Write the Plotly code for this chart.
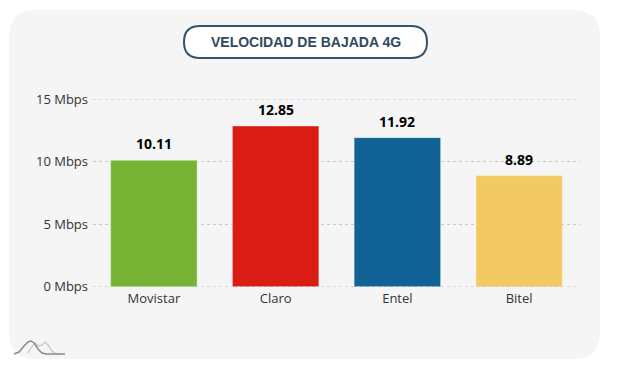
import plotly.graph_objects as go

W, H = 623, 371
L, R, T, B = 93, 580, 99, 287

categories = ["Movistar", "Claro", "Entel", "Bitel"]
values = [10.11, 12.85, 11.92, 8.89]
labels = ["10.11", "12.85", "11.92", "8.89"]
colors = ["#76b335", "#d91c14", "#106394", "#f3c964"]
tick_values = [0, 5, 10, 15]
tick_labels = ["0 Mbps", "5 Mbps", "10 Mbps", "15 Mbps"]
title_text = "VELOCIDAD DE BAJADA 4G"

# paper coordinates relative to the plot area
def X(x):
    return (x - L) / (R - L)

def Y(y):
    return (B - y) / (B - T)

def rounded(x0, y0, x1, y1, r):
    return (
        f"M {X(x0 + r)} {Y(y0)} L {X(x1 - r)} {Y(y0)} Q {X(x1)} {Y(y0)} {X(x1)} {Y(y0 + r)} "
        f"L {X(x1)} {Y(y1 - r)} Q {X(x1)} {Y(y1)} {X(x1 - r)} {Y(y1)} "
        f"L {X(x0 + r)} {Y(y1)} Q {X(x0)} {Y(y1)} {X(x0)} {Y(y1 - r)} "
        f"L {X(x0)} {Y(y0 + r)} Q {X(x0)} {Y(y0)} {X(x0 + r)} {Y(y0)} Z"
    )

def curve(points):
    d = f"M {X(points[0][0])} {Y(points[0][1])}"
    for p in points[1:]:
        d += f" L {X(p[0])} {Y(p[1])}"
    return d

fig = go.Figure(
    go.Bar(
        x=categories,
        y=values,
        width=0.71,
        marker=dict(color=colors, line=dict(color="rgba(255,255,255,0.35)", width=1)),
        cliponaxis=False,
        hoverinfo="skip",
    )
)

shapes = [
    dict(type="path", xref="paper", yref="paper", path=rounded(9, 10, 600, 359, 27),
         fillcolor="#f5f5f5", line=dict(width=0), layer="below"),
    dict(type="path", xref="paper", yref="paper", path=rounded(184, 26, 427, 58, 16),
         fillcolor="#ffffff", line=dict(color="#34536a", width=2), layer="below"),
    dict(type="path", xref="paper", yref="paper",
         path=curve([(28, 353), (31, 348), (35, 343), (39, 346), (42, 345), (45, 342), (48, 345), (52, 351), (56, 354), (60, 354)]),
         line=dict(color="#c4c4c4", width=1.2), layer="below"),
    dict(type="path", xref="paper", yref="paper",
         path=curve([(14, 354), (19, 352), (24, 346), (28, 342), (31, 341), (34, 343), (38, 349), (42, 353), (46, 354), (65, 354)]),
         line=dict(color="#8a8a8a", width=1.5), layer="below"),
    dict(type="line", xref="paper", yref="y", x0=0, x1=1, y0=0, y1=0,
         line=dict(color="#c8c8c8", width=1, dash="dot"), layer="above"),
    dict(type="line", xref="paper", yref="y", x0=0, x1=1, y0=15, y1=15,
         line=dict(color="#c8c8c8", width=1, dash="dot"), layer="below"),
]

annotations = [
    dict(
        text=title_text, xref="paper", yref="paper", x=X(305.5), y=Y(42),
        xanchor="center", yanchor="middle", showarrow=False,
        font=dict(family="Liberation Sans", size=14, color="#2f4a60", weight="bold"),
    )
]
for cat, val, lab in zip(categories, values, labels):
    annotations.append(
        dict(
            text=lab, x=cat, y=val, xref="x", yref="y",
            xanchor="center", yanchor="bottom", yshift=5, showarrow=False,
            font=dict(family="Open Sans", size=14, color="#000000", weight="bold"),
        )
    )

fig.update_layout(
    width=W,
    height=H,
    margin=dict(l=L, r=W - R, t=T, b=H - B, pad=0),
    paper_bgcolor="#ffffff",
    plot_bgcolor="rgba(0,0,0,0)",
    showlegend=False,
    shapes=shapes,
    annotations=annotations,
    font=dict(family="Open Sans", size=13, color="#333333"),
    xaxis=dict(
        range=[-0.5, 3.5],
        showgrid=False,
        zeroline=False,
        showline=False,
        ticks="",
        ticklabelstandoff=2,
        tickfont=dict(size=13, color="#333333"),
    ),
    yaxis=dict(
        range=[-0.01, 15.01],
        tickmode="array",
        tickvals=tick_values,
        ticktext=tick_labels,
        showgrid=True,
        gridcolor="#c8c8c8",
        griddash="dot",
        gridwidth=1,
        zeroline=False,
        showline=False,
        ticks="",
        ticklabelstandoff=4,
        tickfont=dict(size=13, color="#333333"),
    ),
)

fig.write_html(
    "out.html",
    config={"displayModeBar": False},
    post_script="document.body.style.margin='0';document.documentElement.style.overflow='hidden';",
)
